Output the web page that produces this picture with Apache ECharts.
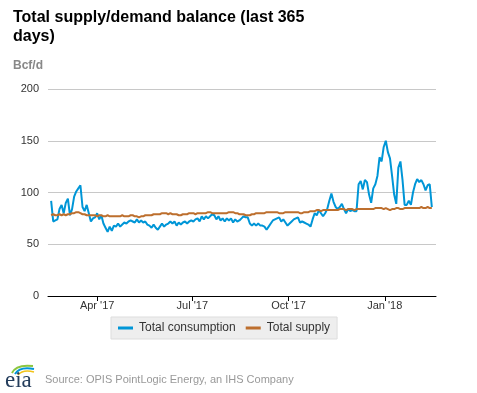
<!DOCTYPE html>
<html>
<head>
<meta charset="utf-8">
<script src="https://cdn.jsdelivr.net/npm/echarts@6/dist/echarts.min.js"></script>
<style>
html,body{margin:0;padding:0;background:#fff;}
#chart{width:477px;height:393px;}
</style>
</head>
<body>
<div id="chart"></div>
<script>
// Daily readings, sampled every 2 days starting 2017-02-16
var startDate = [2017, 1, 16];
var stepDays = 2;
var consumption = [
  92,72,73,74,84,88,80,90,94,78,
  84,96,101,104,107,86,82,88,80,72,
  75,76,80,74,78,70,66,62,67,63,
  68,67,70,67,69,71,70,72,73,72,
  71,74,71,73,71,72,69,68,66,69,
  66,64,67,70,67,69,70,72,70,72,
  68,71,69,71,72,70,72,73,72,74,
  75,72,77,74,77,75,77,79,78,74,
  77,73,75,72,75,73,75,71,74,72,
  73,75,77,76,76,70,68,70,68,70,
  68,68,67,64,67,70,73,74,75,76,
  72,74,71,68,70,72,74,75,76,71,
  72,71,70,69,67,74,80,78,83,80,
  77,80,84,92,99,91,86,84,86,89,
  84,80,84,82,83,82,82,108,111,103,
  112,110,98,90,104,108,116,134,130,144,
  150,139,133,116,98,89,124,130,112,88,
  88,92,88,100,108,113,110,112,108,102,
  107,108,86
];
var supply = [
  78,79,78,78,79,78,79,78,79,79,80,
  80,81,81,80,79,79,78,78,78,78,
  78,77,78,78,77,77,78,77,77,77,
  77,77,77,78,77,77,77,78,78,77,
  77,76,77,77,78,78,78,78,79,79,
  79,79,80,80,80,79,80,79,79,79,
  78,78,79,79,79,80,80,80,79,80,
  80,80,80,80,81,81,80,80,80,80,
  80,80,80,80,81,81,81,80,80,79,
  79,79,78,78,78,79,79,80,80,80,
  80,80,81,81,81,81,81,81,80,80,
  80,81,81,81,81,81,81,81,80,80,
  81,81,81,82,82,82,83,83,82,83,
  83,83,83,83,83,83,83,84,84,84,
  83,84,84,84,83,84,84,84,84,84,
  84,84,84,84,85,85,85,85,84,85,
  84,83,84,84,85,85,84,84,85,85,
  85,85,85,85,85,85,86,85,85,86,85,85
];
var seriesNames = ['Total consumption', 'Total supply'];
var xTickDates = [[2017,3,1],[2017,6,1],[2017,9,1],[2018,0,1]];
var xTickLabels = ["Apr '17", "Jul '17", "Oct '17", "Jan '18"];
var xRange = [[2017,1,13],[2018,1,19]];
var yTicks = [0, 50, 100, 150, 200];
var titleText = 'Total supply/demand balance (last 365\ndays)';
var unitText = 'Bcf/d';
var sourceText = 'Source: OPIS PointLogic Energy, an IHS Company';

function mkDate(a){ return new Date(a[0], a[1], a[2]).getTime(); }
function dateAt(i){ var d = new Date(startDate[0], startDate[1], startDate[2]); d.setDate(d.getDate() + i*stepDays); return d.getTime(); }
function pairs(arr){ return arr.map(function(v,i){ return [dateAt(i), v]; }); }
var tickTs = xTickDates.map(mkDate);

var FONT = '"Liberation Sans", Arial, sans-serif';
var chart = echarts.init(document.getElementById('chart'), null, {renderer:'canvas'});
chart.setOption({
  animation: false,
  backgroundColor: '#fff',
  title: {
    text: titleText, left: 8, top: 3,
    textStyle: {fontFamily: FONT, fontSize: 16, fontWeight: 'bold', color: '#000', lineHeight: 19}
  },
  legend: {
    left: 111, top: 317, width: 225,
    backgroundColor: '#eeeeee', borderColor: '#dddddd', borderWidth: 1,
    padding: [5, 7, 5, 7], itemGap: 10,
    itemWidth: 15, itemHeight: 3, icon: 'rect',
    textStyle: {fontFamily: FONT, fontSize: 12, color: '#333', padding: [0,0,0,1]},
    data: seriesNames
  },
  grid: {left: 48, right: 41, top: 89, bottom: 97, containLabel: false},
  xAxis: {
    type: 'value', min: mkDate(xRange[0]), max: mkDate(xRange[1]),
    axisLine: {show: true, lineStyle: {color: '#000', width: 1}},
    axisTick: {show: true, length: 5, lineStyle: {color: '#000'}, customValues: tickTs},
    axisLabel: {
      customValues: tickTs, margin: 4,
      fontFamily: FONT, fontSize: 11, color: '#333',
      formatter: function(v){ var i = tickTs.indexOf(v); return i >= 0 ? xTickLabels[i] : ''; }
    },
    splitLine: {show: false}
  },
  yAxis: {
    type: 'value', min: yTicks[0], max: yTicks[yTicks.length-1], interval: 50,
    axisLine: {show: false}, axisTick: {show: false},
    axisLabel: {margin: 9, fontFamily: FONT, fontSize: 11, color: '#333'},
    splitLine: {show: true, lineStyle: {color: '#c8c8c8', width: 1}}
  },
  series: [
    {name: seriesNames[0], type: 'line', data: pairs(consumption), showSymbol: false, symbol: 'none',
     lineStyle: {color: '#0096d7', width: 2}, itemStyle: {color: '#0096d7'}, z: 3},
    {name: seriesNames[1], type: 'line', data: pairs(supply), showSymbol: false, symbol: 'none',
     lineStyle: {color: '#bd6f2e', width: 2}, itemStyle: {color: '#bd6f2e'}, z: 4}
  ],
  graphic: [
    {type: 'text', left: 13, top: 60, style: {text: unitText, font: 'bold 12px ' + FONT, fill: '#888'}},
    {type: 'text', left: 45, top: 374, style: {text: sourceText, font: '11px ' + FONT, fill: '#999'}},
    {type: 'bezierCurve', shape: {x1: 12, y1: 373, x2: 33, y2: 366, cpx1: 16, cpy1: 364}, style: {stroke: '#8cc63f', lineWidth: 2, fill: null}},
    {type: 'bezierCurve', shape: {x1: 15, y1: 374, x2: 34, y2: 369, cpx1: 20, cpy1: 366}, style: {stroke: '#0096d7', lineWidth: 2, fill: null}},
    {type: 'bezierCurve', shape: {x1: 18, y1: 375, x2: 34, y2: 372, cpx1: 23, cpy1: 369}, style: {stroke: '#f2c318', lineWidth: 1.5, fill: null}},
    {type: 'text', left: 5, top: 369, style: {text: 'eia', font: '23px "Liberation Serif", "DejaVu Serif", serif', fill: '#243d5c'}}
  ]
});
</script>
</body>
</html>
